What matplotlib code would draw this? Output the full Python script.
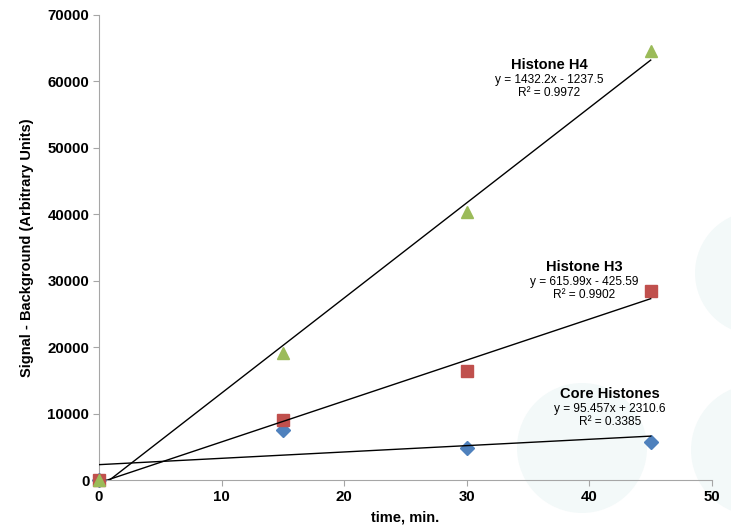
import matplotlib.pyplot as plt
from matplotlib.patches import Circle
import numpy as np

plt.rcParams['font.family'] = ['Liberation Sans', 'DejaVu Sans']

# data
time_min = [0, 15, 30, 45]
core_histones = [0, 7500, 4800, 5700]
histone_h3 = [0, 9000, 16350, 28400]
histone_h4 = [0, 19100, 40300, 64600]

# trendline coefficients (slope, intercept) and R² as printed on the chart
fits = {
    "Core Histones": (95.457, 2310.6, 0.3385),
    "Histone H3": (615.99, -425.59, 0.9902),
    "Histone H4": (1432.2, -1237.5, 0.9972),
}

series = [
    ("Core Histones", core_histones, "#4F81BD", "D", 7),
    ("Histone H3", histone_h3, "#C0504D", "s", 8),
    ("Histone H4", histone_h4, "#9BBB59", "^", 9),
]

# label anchor positions (data coords)
label_pos = {
    "Histone H4": (36.7, 62470),
    "Histone H3": (39.6, 32060),
    "Core Histones": (41.7, 12950),
}

fig = plt.figure(figsize=(7.31, 5.25), dpi=100)
fig.patch.set_facecolor('white')

# faint decorative circles in the background (pixel coords)
bg = fig.add_axes([0, 0, 1, 1], zorder=0)
bg.set_xlim(0, 731)
bg.set_ylim(525, 0)
bg.axis('off')
for cx, cy, r in [(582, 448, 65), (757, 273, 62), (757, 450, 66)]:
    bg.add_patch(Circle((cx, cy), r, facecolor='#f3f9f9', edgecolor='none'))

ax = fig.add_axes([99 / 731, 1 - 480 / 525, 613 / 731, 465 / 525], zorder=1)
ax.patch.set_alpha(0)

for name, vals, color, marker, ms in series:
    ax.plot(time_min, vals, linestyle='none', marker=marker, color=color,
            markersize=ms, zorder=3, clip_on=False)

xs = np.array([0, 45])
for name, (m, b, r2) in fits.items():
    ax.plot(xs, m * xs + b, color='black', linewidth=1.0, zorder=4)
    lx, ly = label_pos[name]
    ax.text(lx, ly, name, ha='center', va='center', fontsize=10.5, fontweight='bold')
    sign = '-' if b < 0 else '+'
    ax.text(lx, ly - 2260, f"y = {m}x {sign} {abs(b)}", ha='center', va='center', fontsize=8.6)
    ax.text(lx, ly - 4220, f"R² = {r2}", ha='center', va='center', fontsize=8.6)

ax.set_xlim(0, 50)
ax.set_ylim(0, 70000)
ax.set_xticks(np.arange(0, 51, 10))
ax.set_yticks(np.arange(0, 70001, 10000))
ax.spines['top'].set_visible(False)
ax.spines['right'].set_visible(False)
ax.spines['left'].set_color('#a6a6a6')
ax.spines['bottom'].set_color('#a6a6a6')
ax.tick_params(direction='out', length=4, color='#a6a6a6', labelsize=10.8, pad=3)
for lab in ax.get_xticklabels() + ax.get_yticklabels():
    lab.set_fontweight('bold')

ax.set_xlabel("time, min.", fontsize=10.5, fontweight='bold', labelpad=5)
ax.set_ylabel("Signal - Background (Arbitrary Units)", fontsize=10.5, fontweight='bold', labelpad=10)

plt.savefig("out.png", dpi=100)
